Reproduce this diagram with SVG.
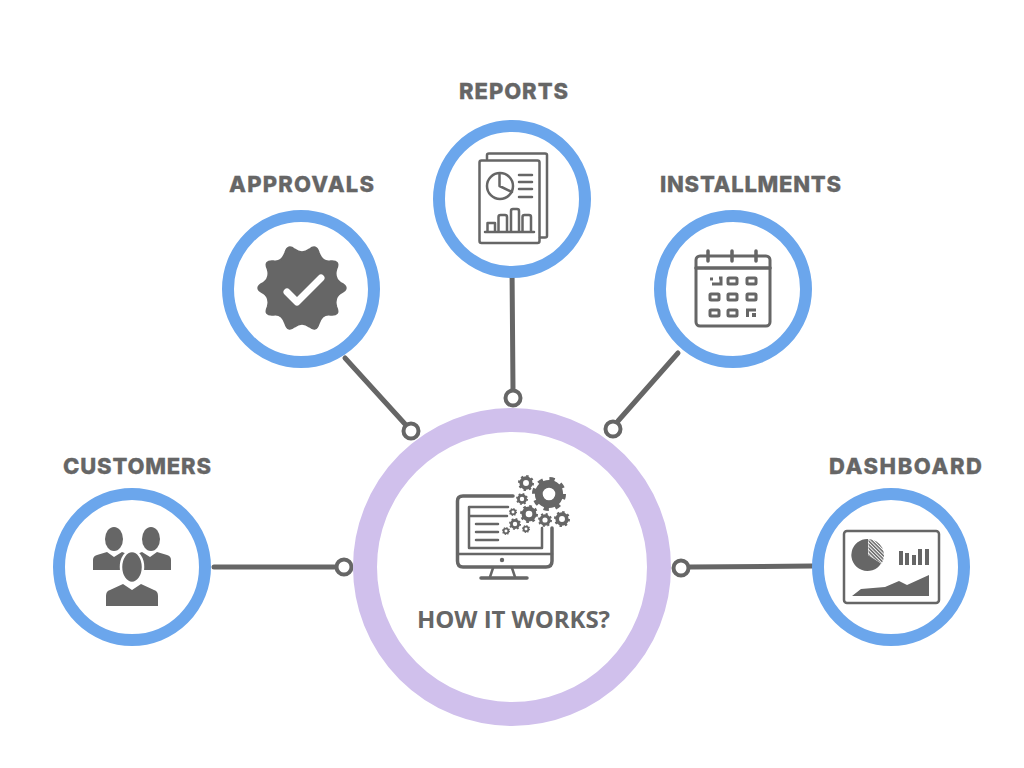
<svg xmlns="http://www.w3.org/2000/svg" width="1024" height="768" viewBox="0 0 1024 768">
<style>
.ring{fill:#fff;stroke:#6ba6ec;stroke-width:12}
.hub{fill:#fff;stroke:#d0c0ec;stroke-width:24}
.conn{fill:none;stroke:#666;stroke-width:5;stroke-linecap:round}
.dot{fill:#fff;stroke:#666;stroke-width:4}
.lab{font-family:Inter,"Liberation Sans",sans-serif;font-weight:800;font-size:22px;fill:#666;stroke:#666;stroke-width:.3}
.hubt{font-family:"Open Sans","Liberation Sans",sans-serif;font-weight:700;font-size:24px;fill:#666}
.ln{fill:none;stroke:#666;stroke-width:2.5;stroke-linecap:round;stroke-linejoin:round}
.ln3{fill:none;stroke:#666;stroke-width:3.5;stroke-linecap:round;stroke-linejoin:round}
.fill{fill:#666}
</style>
<defs>
<pattern id="hatch" width="2.5" height="2.5" patternUnits="userSpaceOnUse" patternTransform="rotate(45)"><rect width="2.5" height="2.5" fill="#fff"/><rect width="2.5" height="1.500" fill="#666"/></pattern>
<g id="gear"><circle r="0.6" fill="none" stroke="#666" stroke-width="0.46"/><circle r="0.86" fill="none" stroke="#666" stroke-width="0.28" stroke-dasharray="0.3 0.375"/></g>
</defs>
<rect width="1024" height="768" fill="#fff"/>
<g id="connectors">
<path class="conn" d="M214 567H336"/>
<path class="conn" d="M512 266L513 390"/>
<path class="conn" d="M345 358L405 424"/>
<path class="conn" d="M678 353L618 421"/>
<path class="conn" d="M812 566L690 567"/>
<circle class="dot" cx="344" cy="567" r="7.5"/>
<circle class="dot" cx="513" cy="398" r="7.5"/>
<circle class="dot" cx="411" cy="431" r="7.5"/>
<circle class="dot" cx="613" cy="429" r="7.5"/>
<circle class="dot" cx="681" cy="568" r="7.5"/>
</g>
<g id="hub">
<circle class="hub" cx="512" cy="567" r="147"/>
<path class="ln3" d="M513 496H463Q457.500 496 457.500 501V561Q457.500 567 463 567H546Q552 567 552 561V528"/>
<path class="ln" d="M457.500 554H552M508 507H469V548H542V528M469 516H507M476 524H498M476 532H498M476 540H498"/>
<circle class="fill" cx="502" cy="560" r="2.200"/>
<path class="ln" d="M493 568L490 577M512 568L515 577"/>
<path class="ln3" d="M481 578H527"/>
<use href="#gear" transform="translate(549 494) scale(17)"/>
<use href="#gear" transform="translate(526 483) scale(8)"/>
<use href="#gear" transform="translate(522 499) scale(6)"/>
<use href="#gear" transform="translate(529 514) scale(9)"/>
<use href="#gear" transform="translate(513 512) scale(4)"/>
<use href="#gear" transform="translate(515 524) scale(6)"/>
<use href="#gear" transform="translate(506 531) scale(4)"/>
<use href="#gear" transform="translate(526 529) scale(4)"/>
<use href="#gear" transform="translate(545 520) scale(7)"/>
<use href="#gear" transform="translate(562 519) scale(8)"/>
<text class="hubt" x="417" y="628" textLength="193" lengthAdjust="spacing">HOW IT WORKS?</text>
</g>
<g id="customers">
<circle class="ring" cx="132" cy="567" r="73"/>
<text class="lab" x="63" y="474" textLength="148" lengthAdjust="spacing">CUSTOMERS</text>
<ellipse class="fill" cx="114" cy="539" rx="9" ry="12"/>
<ellipse class="fill" cx="151" cy="539" rx="9" ry="12"/>
<path class="fill" d="M93 570V560Q93 556 97 555L107 552L114 557L122 552L135 557V570ZM171 570V560Q171 556 167 555L157 552L150 557L142 552L130 557V570Z"/>
<ellipse class="fill" stroke="#fff" stroke-width="2.500" cx="132" cy="567" rx="11" ry="16"/>
<path class="fill" d="M106 606V596Q106 591 110 590L123 584L132 590L141 584L154 590Q158 591 158 596V606Z"/>
</g>
<g id="approvals">
<circle class="ring" cx="301" cy="289" r="73"/>
<text class="lab" x="229" y="192" textLength="145" lengthAdjust="spacing">APPROVALS</text>
<path class="fill" stroke="#666" stroke-width="2" stroke-linejoin="round" transform="translate(302 288) scale(.97)" d="M40.200 -4.950Q50 0 40.200 4.950Q32.400 9.900 35.450 19.650Q39.500 28.400 29.650 27.650Q20.800 25.900 17.150 36.750Q14.500 45.600 7.750 39.800Q0 34 -7.750 39.800Q-14.500 45.600 -17.150 36.750Q-20.800 25.900 -29.650 27.650Q-39.500 28.400 -35.450 19.650Q-32.400 9.900 -40.200 4.950Q-50 0 -40.200 -4.950Q-32.400 -9.900 -35.450 -19.650Q-39.500 -28.400 -29.650 -27.650Q-20.800 -25.900 -17.150 -36.750Q-14.500 -45.600 -7.750 -39.800Q0 -34 7.750 -39.800Q14.500 -45.600 17.150 -36.750Q20.800 -25.900 29.650 -27.650Q39.500 -28.400 35.450 -19.650Q32.400 -9.900 40.200 -4.950Z"/>
<path fill="none" stroke="#fff" stroke-width="7" stroke-linecap="round" stroke-linejoin="round" d="M287 292L297 302L321 278"/>
</g>
<g id="reports">
<circle class="ring" cx="512" cy="199" r="73"/>
<text class="lab" x="459" y="99" textLength="109" lengthAdjust="spacing">REPORTS</text>
<path class="ln" d="M487 159V155Q487 153.500 489 153.500H545Q547 153.500 547 155V236Q547 237.500 545 237.500H540"/>
<rect class="ln" x="479.500" y="160.500" width="60" height="82.500" rx="2"/>
<circle class="ln" cx="500" cy="186" r="13"/>
<path class="ln" d="M499.500 173.500V186L512 192M519 175H532M519 182H532M519 189H532M519 197H532M485 232H534M487.500 232V223H495V232M498.500 232V217Q498.500 215 500.500 215H505Q507 215 507 217V232M511 232V211Q511 209 513 209H517Q519 209 519 211V232M522.500 232V217Q522.500 215 524.500 215H529Q531 215 531 217V232"/>
</g>
<g id="installments">
<circle class="ring" cx="733" cy="289" r="73"/>
<text class="lab" x="660" y="192" textLength="181" lengthAdjust="spacing">INSTALLMENTS</text>
<rect fill="none" stroke="#666" stroke-width="3" x="696" y="256" width="74" height="70" rx="4"/>
<path class="ln3" stroke-linecap="butt" d="M696 268H770M708 251V261M732 251V261M756 251V261"/>
<g fill="none" stroke="#666" stroke-width="3">
<path d="M719 278H721V284H712"/>
<rect x="728" y="278" width="9" height="6" rx="1"/>
<rect x="747" y="278" width="9" height="6" rx="1"/>
<rect x="710" y="294" width="9" height="6" rx="1"/>
<rect x="728" y="294" width="9" height="6" rx="1"/>
<rect x="747" y="294" width="9" height="6" rx="1"/>
<rect x="710" y="310" width="9" height="6" rx="1"/>
<rect x="728" y="310" width="9" height="6" rx="1"/>
<path d="M747.500 317V310H756"/>
</g>
<rect class="fill" x="710" y="277.500" width="3" height="3"/>
<rect class="fill" x="752" y="313" width="4" height="4"/>
</g>
<g id="dashboard">
<circle class="ring" cx="891" cy="567" r="73"/>
<text class="lab" x="829" y="474" textLength="153" lengthAdjust="spacing">DASHBOARD</text>
<rect fill="#fff" stroke="#666" stroke-width="2.500" x="844" y="531" width="95" height="72" rx="3"/>
<path d="M868.500 539A16 16 0 0 1 881.600 563.400L868.500 555Z" fill="url(#hatch)"/>
<path class="fill" d="M868 539A16 16 0 1 0 881 563.400L868 555Z"/>
<path class="fill" d="M899 551h4v14h-4zM905 553h4v12h-4zM912 555h4v10h-4zM918 549h4v16h-4zM925 549h4v16h-4zM852 596L861 589L885 587L899 581L907 585L929 575V596Z"/>
</g>
</svg>
